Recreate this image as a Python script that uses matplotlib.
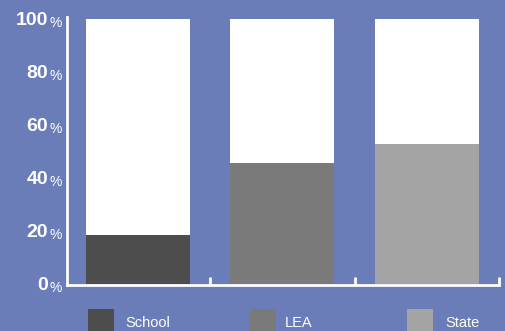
import matplotlib
matplotlib.use("Agg")
import matplotlib.pyplot as plt
from matplotlib.patches import Rectangle
from matplotlib import font_manager

categories = ["School", "LEA", "State"]
values = [18.3, 45.5, 52.7]
colors = ["#4d4d4d", "#7a7a7a", "#a4a4a4"]
yticks = [0, 20, 40, 60, 80, 100]

avail = {f.name for f in font_manager.fontManager.ttflist}
fam = ["Liberation Sans Narrow", "DejaVu Sans"] if "Liberation Sans Narrow" in avail else ["Liberation Sans", "DejaVu Sans"]
plt.rcParams['font.family'] = fam

bg = "#6a7db8"
W, H = 505, 331
fig = plt.figure(figsize=(W/100, H/100), dpi=100, facecolor=bg)
ax = fig.add_axes([67/W, (H-285)/H, (499-67)/W, (285-17)/H])
ax.set_facecolor(bg)

x = list(range(len(categories)))
ax.bar(x, [100]*len(x), width=0.717, color="white", zorder=1)
ax.bar(x, values, width=0.717, color=colors, zorder=2)

ax.set_xlim(-0.49, 2.5)
ax.set_ylim(-0.4, 100 * (285 - 17) / (285 - 20) - 0.4)
for s in ["top", "right"]:
    ax.spines[s].set_visible(False)
for s in ["left", "bottom"]:
    ax.spines[s].set_color("white")
    ax.spines[s].set_linewidth(2)
ax.set_xticks([0.5, 1.5, 2.5])
ax.set_xticklabels([])
ax.tick_params(axis="x", direction="in", length=6, width=2, color="white")
ax.set_yticks([])

# y labels: bold number + smaller percent sign
for t in yticks:
    ax.annotate(str(t), xy=(0, t), xycoords=("axes fraction", "data"),
                xytext=(-19, -2), textcoords="offset pixels",
                ha="right", va="center", color="white", fontsize=14, fontweight="bold")
    ax.annotate("%", xy=(0, t), xycoords=("axes fraction", "data"),
                xytext=(-17, -4), textcoords="offset pixels",
                ha="left", va="center", color="white", fontsize=10)

# legend
sw = [88, 250, 407]
tx = [125, 285, 445]
for i, c in enumerate(categories):
    fig.add_artist(Rectangle((sw[i]/W, 0), 26/W, (H-309)/H, transform=fig.transFigure,
                             facecolor=colors[i], edgecolor="none"))
    fig.text(tx[i]/W, (H-323)/H, c, color="white", fontsize=10.5, ha="left", va="center")

fig.savefig("out.png", dpi=100, facecolor=bg)
